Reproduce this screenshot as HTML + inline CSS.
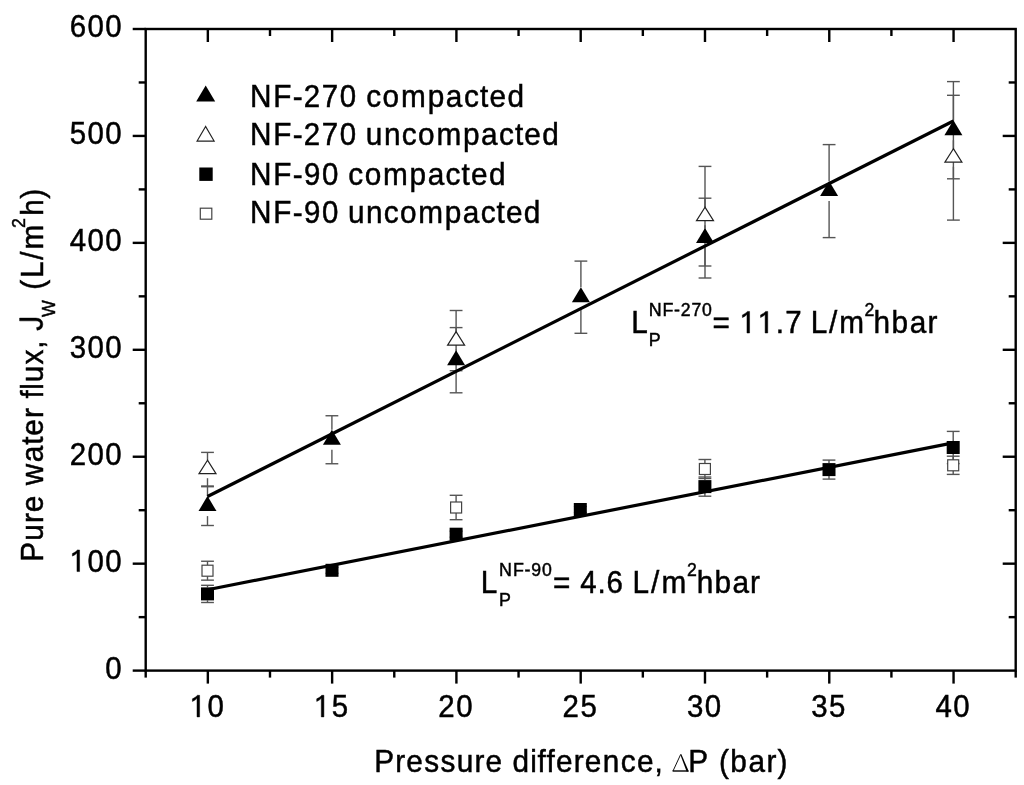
<!DOCTYPE html><html><head><meta charset="utf-8"><style>html,body{margin:0;padding:0;background:#fff;overflow:hidden;}svg{display:block;filter:grayscale(1);}text{font-family:"Liberation Sans",sans-serif;fill:#000;font-kerning:none;}</style></head><body>
<svg width="1024" height="785" viewBox="0 0 1024 785">
<rect width="1024" height="785" fill="#fff"/>
<g stroke="#000" stroke-width="2.4" fill="none" stroke-linecap="butt">
<rect x="145.7" y="29.0" width="870.0" height="641.6"/>
<line x1="132.7" y1="670.60" x2="145.7" y2="670.60"/>
<line x1="138.7" y1="617.13" x2="145.7" y2="617.13"/>
<line x1="1015.7" y1="617.13" x2="1008.7" y2="617.13"/>
<line x1="132.7" y1="563.67" x2="145.7" y2="563.67"/>
<line x1="1015.7" y1="563.67" x2="1002.7" y2="563.67"/>
<line x1="138.7" y1="510.20" x2="145.7" y2="510.20"/>
<line x1="1015.7" y1="510.20" x2="1008.7" y2="510.20"/>
<line x1="132.7" y1="456.73" x2="145.7" y2="456.73"/>
<line x1="1015.7" y1="456.73" x2="1002.7" y2="456.73"/>
<line x1="138.7" y1="403.27" x2="145.7" y2="403.27"/>
<line x1="1015.7" y1="403.27" x2="1008.7" y2="403.27"/>
<line x1="132.7" y1="349.80" x2="145.7" y2="349.80"/>
<line x1="1015.7" y1="349.80" x2="1002.7" y2="349.80"/>
<line x1="138.7" y1="296.33" x2="145.7" y2="296.33"/>
<line x1="1015.7" y1="296.33" x2="1008.7" y2="296.33"/>
<line x1="132.7" y1="242.87" x2="145.7" y2="242.87"/>
<line x1="1015.7" y1="242.87" x2="1002.7" y2="242.87"/>
<line x1="138.7" y1="189.40" x2="145.7" y2="189.40"/>
<line x1="1015.7" y1="189.40" x2="1008.7" y2="189.40"/>
<line x1="132.7" y1="135.93" x2="145.7" y2="135.93"/>
<line x1="1015.7" y1="135.93" x2="1002.7" y2="135.93"/>
<line x1="138.7" y1="82.47" x2="145.7" y2="82.47"/>
<line x1="1015.7" y1="82.47" x2="1008.7" y2="82.47"/>
<line x1="132.7" y1="29.00" x2="145.7" y2="29.00"/>
<line x1="145.70" y1="670.6" x2="145.70" y2="677.6"/>
<line x1="207.84" y1="670.6" x2="207.84" y2="683.6"/>
<line x1="207.84" y1="29.0" x2="207.84" y2="42.0"/>
<line x1="269.99" y1="670.6" x2="269.99" y2="677.6"/>
<line x1="269.99" y1="29.0" x2="269.99" y2="36.0"/>
<line x1="332.13" y1="670.6" x2="332.13" y2="683.6"/>
<line x1="332.13" y1="29.0" x2="332.13" y2="42.0"/>
<line x1="394.27" y1="670.6" x2="394.27" y2="677.6"/>
<line x1="394.27" y1="29.0" x2="394.27" y2="36.0"/>
<line x1="456.41" y1="670.6" x2="456.41" y2="683.6"/>
<line x1="456.41" y1="29.0" x2="456.41" y2="42.0"/>
<line x1="518.56" y1="670.6" x2="518.56" y2="677.6"/>
<line x1="518.56" y1="29.0" x2="518.56" y2="36.0"/>
<line x1="580.70" y1="670.6" x2="580.70" y2="683.6"/>
<line x1="580.70" y1="29.0" x2="580.70" y2="42.0"/>
<line x1="642.84" y1="670.6" x2="642.84" y2="677.6"/>
<line x1="642.84" y1="29.0" x2="642.84" y2="36.0"/>
<line x1="704.99" y1="670.6" x2="704.99" y2="683.6"/>
<line x1="704.99" y1="29.0" x2="704.99" y2="42.0"/>
<line x1="767.13" y1="670.6" x2="767.13" y2="677.6"/>
<line x1="767.13" y1="29.0" x2="767.13" y2="36.0"/>
<line x1="829.27" y1="670.6" x2="829.27" y2="683.6"/>
<line x1="829.27" y1="29.0" x2="829.27" y2="42.0"/>
<line x1="891.41" y1="670.6" x2="891.41" y2="677.6"/>
<line x1="891.41" y1="29.0" x2="891.41" y2="36.0"/>
<line x1="953.56" y1="670.6" x2="953.56" y2="683.6"/>
<line x1="953.56" y1="29.0" x2="953.56" y2="42.0"/>
<line x1="1015.70" y1="670.6" x2="1015.70" y2="677.6"/>
</g>
<g stroke="#000" stroke-width="0.5">
<text transform="translate(105.32,678.50) scale(0.92,0.98)" font-size="32">0</text>
<path d="M515,0 L696,0 L696,1409 L545,1409 C470,1330 330,1230 197,1180 L197,1010 C330,1060 440,1140 515,1210 Z" transform="translate(69.57,571.57) scale(0.014375,-0.015312)" fill="#000" stroke="#000" stroke-width="32.0"/><text transform="translate(87.52,571.57) scale(0.92,0.98)" font-size="32">0</text><text transform="translate(105.32,571.57) scale(0.92,0.98)" font-size="32">0</text>
<text transform="translate(69.72,464.63) scale(0.92,0.98)" font-size="32">2</text><text transform="translate(87.52,464.63) scale(0.92,0.98)" font-size="32">0</text><text transform="translate(105.32,464.63) scale(0.92,0.98)" font-size="32">0</text>
<text transform="translate(69.71,357.70) scale(0.92,0.98)" font-size="32">3</text><text transform="translate(87.52,357.70) scale(0.92,0.98)" font-size="32">0</text><text transform="translate(105.32,357.70) scale(0.92,0.98)" font-size="32">0</text>
<text transform="translate(69.71,250.77) scale(0.92,0.98)" font-size="32">4</text><text transform="translate(87.52,250.77) scale(0.92,0.98)" font-size="32">0</text><text transform="translate(105.32,250.77) scale(0.92,0.98)" font-size="32">0</text>
<text transform="translate(69.72,143.83) scale(0.92,0.98)" font-size="32">5</text><text transform="translate(87.52,143.83) scale(0.92,0.98)" font-size="32">0</text><text transform="translate(105.32,143.83) scale(0.92,0.98)" font-size="32">0</text>
<text transform="translate(69.73,36.90) scale(0.92,0.98)" font-size="32">6</text><text transform="translate(87.52,36.90) scale(0.92,0.98)" font-size="32">0</text><text transform="translate(105.32,36.90) scale(0.92,0.98)" font-size="32">0</text>
<path d="M515,0 L696,0 L696,1409 L545,1409 C470,1330 330,1230 197,1180 L197,1010 C330,1060 440,1140 515,1210 Z" transform="translate(189.60,716.90) scale(0.014375,-0.015312)" fill="#000" stroke="#000" stroke-width="32.0"/><text transform="translate(207.55,716.90) scale(0.92,0.98)" font-size="32">0</text>
<path d="M515,0 L696,0 L696,1409 L545,1409 C470,1330 330,1230 197,1180 L197,1010 C330,1060 440,1140 515,1210 Z" transform="translate(313.89,716.90) scale(0.014375,-0.015312)" fill="#000" stroke="#000" stroke-width="32.0"/><text transform="translate(331.84,716.90) scale(0.92,0.98)" font-size="32">5</text>
<text transform="translate(438.33,716.90) scale(0.92,0.98)" font-size="32">2</text><text transform="translate(456.13,716.90) scale(0.92,0.98)" font-size="32">0</text>
<text transform="translate(562.62,716.90) scale(0.92,0.98)" font-size="32">2</text><text transform="translate(580.41,716.90) scale(0.92,0.98)" font-size="32">5</text>
<text transform="translate(686.89,716.90) scale(0.92,0.98)" font-size="32">3</text><text transform="translate(704.70,716.90) scale(0.92,0.98)" font-size="32">0</text>
<text transform="translate(811.18,716.90) scale(0.92,0.98)" font-size="32">3</text><text transform="translate(828.98,716.90) scale(0.92,0.98)" font-size="32">5</text>
<text transform="translate(935.46,716.90) scale(0.92,0.98)" font-size="32">4</text><text transform="translate(953.27,716.90) scale(0.92,0.98)" font-size="32">0</text>
<text transform="translate(374.16,772.00) scale(0.93,1.0)" font-size="32">P</text><text transform="translate(395.33,772.00) scale(0.93,1.0)" font-size="32">r</text><text transform="translate(406.36,772.00) scale(0.93,1.0)" font-size="32">e</text><text transform="translate(424.27,772.00) scale(0.93,1.0)" font-size="32">s</text><text transform="translate(440.45,772.00) scale(0.93,1.0)" font-size="32">s</text><text transform="translate(456.70,772.00) scale(0.93,1.0)" font-size="32">u</text><text transform="translate(474.49,772.00) scale(0.93,1.0)" font-size="32">r</text><text transform="translate(485.52,772.00) scale(0.93,1.0)" font-size="32">e</text><text transform="translate(512.55,772.00) scale(0.93,1.0)" font-size="32">d</text><text transform="translate(530.18,772.00) scale(0.93,1.0)" font-size="32">i</text><text transform="translate(537.55,772.00) scale(0.93,1.0)" font-size="32">f</text><text transform="translate(546.62,772.00) scale(0.93,1.0)" font-size="32">f</text><text transform="translate(555.98,772.00) scale(0.93,1.0)" font-size="32">e</text><text transform="translate(573.77,772.00) scale(0.93,1.0)" font-size="32">r</text><text transform="translate(584.80,772.00) scale(0.93,1.0)" font-size="32">e</text><text transform="translate(602.78,772.00) scale(0.93,1.0)" font-size="32">n</text><text transform="translate(620.71,772.00) scale(0.93,1.0)" font-size="32">c</text><text transform="translate(636.94,772.00) scale(0.93,1.0)" font-size="32">e</text><text transform="translate(654.61,772.00) scale(0.93,1.0)" font-size="32">,</text>
<text transform="translate(688.16,772.00) scale(0.93,1.0)" font-size="32">P</text><text transform="translate(718.95,772.00) scale(0.93,1.0)" font-size="32">(</text><text transform="translate(730.27,772.00) scale(0.93,1.0)" font-size="32">b</text><text transform="translate(748.54,772.00) scale(0.93,1.0)" font-size="32">a</text><text transform="translate(766.55,772.00) scale(0.93,1.0)" font-size="32">r</text><text transform="translate(777.54,772.00) scale(0.93,1.0)" font-size="32">)</text>
<g transform="translate(42.5,559.40) rotate(-90)"><text transform="translate(-2.44,0.00) scale(0.93,1.0)" font-size="32">P</text><text transform="translate(18.75,0.00) scale(0.93,1.0)" font-size="32">u</text><text transform="translate(36.37,0.00) scale(0.93,1.0)" font-size="32">r</text><text transform="translate(47.22,0.00) scale(0.93,1.0)" font-size="32">e</text><text transform="translate(74.12,0.00) scale(0.93,1.0)" font-size="32">w</text><text transform="translate(97.10,0.00) scale(0.93,1.0)" font-size="32">a</text><text transform="translate(114.55,0.00) scale(0.93,1.0)" font-size="32">t</text><text transform="translate(123.75,0.00) scale(0.93,1.0)" font-size="32">e</text><text transform="translate(141.37,0.00) scale(0.93,1.0)" font-size="32">r</text><text transform="translate(160.83,0.00) scale(0.93,1.0)" font-size="32">f</text><text transform="translate(169.65,0.00) scale(0.93,1.0)" font-size="32">l</text><text transform="translate(177.14,0.00) scale(0.93,1.0)" font-size="32">u</text><text transform="translate(194.89,0.00) scale(0.93,1.0)" font-size="32">x</text><text transform="translate(210.65,0.00) scale(0.93,1.0)" font-size="32">,</text><path d="M457,-20 Q99,-20 32,350 L219,381 Q237,265 300,200 Q363,135 458,135 Q562,135 622,206.5 Q682,278 682,416 L682,1466 L872,1466 L872,420 Q872,215 761,97.5 Q650,-20 457,-20 Z" transform="translate(228.63,0.00) scale(0.014531,-0.015625)" fill="#000" stroke="#000" stroke-width="32.0"/></g>
<g transform="translate(55.0,316.80) rotate(-90)"><text transform="translate(-0.08,0.00) scale(0.93,1.0)" font-size="19.2">W</text></g>
<g transform="translate(42.5,287.80) rotate(-90)"><text transform="translate(-1.85,0.00) scale(0.93,1.0)" font-size="32">(</text><text transform="translate(9.84,0.00) scale(0.93,1.0)" font-size="32">L</text><text transform="translate(28.07,0.00) scale(0.93,1.0)" font-size="32">/</text><text transform="translate(38.37,0.00) scale(0.93,1.0)" font-size="32">m</text></g>
<g transform="translate(24.8,227.00) rotate(-90)"><text transform="translate(-0.89,0.00) scale(0.92,0.98)" font-size="19.2">2</text></g>
<g transform="translate(42.5,213.60) rotate(-90)"><text transform="translate(-2.06,0.00) scale(0.93,1.0)" font-size="32">h</text></g>
<g transform="translate(42.5,198.50) rotate(-90)"><text transform="translate(-0.17,0.00) scale(0.93,1.0)" font-size="32">)</text></g>
<text transform="translate(250.06,106.60) scale(0.93,1.0)" font-size="32">N</text><text transform="translate(273.27,106.60) scale(0.93,1.0)" font-size="32">F</text><text transform="translate(292.64,106.60) scale(0.93,1.0)" font-size="32">-</text><text transform="translate(303.82,106.60) scale(0.92,0.98)" font-size="32">2</text><text transform="translate(321.80,106.60) scale(0.92,0.98)" font-size="32">7</text><text transform="translate(339.78,106.60) scale(0.92,0.98)" font-size="32">0</text>
<text transform="translate(366.24,106.60) scale(0.93,1.0)" font-size="32">c</text><text transform="translate(382.60,106.60) scale(0.93,1.0)" font-size="32">o</text><text transform="translate(401.03,106.60) scale(0.93,1.0)" font-size="32">m</text><text transform="translate(427.73,106.60) scale(0.93,1.0)" font-size="32">p</text><text transform="translate(445.87,106.60) scale(0.93,1.0)" font-size="32">a</text><text transform="translate(463.89,106.60) scale(0.93,1.0)" font-size="32">c</text><text transform="translate(479.96,106.60) scale(0.93,1.0)" font-size="32">t</text><text transform="translate(489.47,106.60) scale(0.93,1.0)" font-size="32">e</text><text transform="translate(507.57,106.60) scale(0.93,1.0)" font-size="32">d</text>
<text transform="translate(250.06,145.40) scale(0.93,1.0)" font-size="32">N</text><text transform="translate(273.27,145.40) scale(0.93,1.0)" font-size="32">F</text><text transform="translate(292.64,145.40) scale(0.93,1.0)" font-size="32">-</text><text transform="translate(303.82,145.40) scale(0.92,0.98)" font-size="32">2</text><text transform="translate(321.80,145.40) scale(0.92,0.98)" font-size="32">7</text><text transform="translate(339.78,145.40) scale(0.92,0.98)" font-size="32">0</text>
<text transform="translate(365.87,145.40) scale(0.93,1.0)" font-size="32">u</text><text transform="translate(383.88,145.40) scale(0.93,1.0)" font-size="32">n</text><text transform="translate(401.84,145.40) scale(0.93,1.0)" font-size="32">c</text><text transform="translate(418.09,145.40) scale(0.93,1.0)" font-size="32">o</text><text transform="translate(436.41,145.40) scale(0.93,1.0)" font-size="32">m</text><text transform="translate(462.99,145.40) scale(0.93,1.0)" font-size="32">p</text><text transform="translate(481.02,145.40) scale(0.93,1.0)" font-size="32">a</text><text transform="translate(498.93,145.40) scale(0.93,1.0)" font-size="32">c</text><text transform="translate(514.88,145.40) scale(0.93,1.0)" font-size="32">t</text><text transform="translate(524.28,145.40) scale(0.93,1.0)" font-size="32">e</text><text transform="translate(542.27,145.40) scale(0.93,1.0)" font-size="32">d</text>
<text transform="translate(250.06,184.60) scale(0.93,1.0)" font-size="32">N</text><text transform="translate(273.29,184.60) scale(0.93,1.0)" font-size="32">F</text><text transform="translate(292.68,184.60) scale(0.93,1.0)" font-size="32">-</text><text transform="translate(303.88,184.60) scale(0.92,0.98)" font-size="32">9</text><text transform="translate(321.88,184.60) scale(0.92,0.98)" font-size="32">0</text>
<text transform="translate(348.34,184.60) scale(0.93,1.0)" font-size="32">c</text><text transform="translate(364.63,184.60) scale(0.93,1.0)" font-size="32">o</text><text transform="translate(382.98,184.60) scale(0.93,1.0)" font-size="32">m</text><text transform="translate(409.60,184.60) scale(0.93,1.0)" font-size="32">p</text><text transform="translate(427.67,184.60) scale(0.93,1.0)" font-size="32">a</text><text transform="translate(445.62,184.60) scale(0.93,1.0)" font-size="32">c</text><text transform="translate(461.61,184.60) scale(0.93,1.0)" font-size="32">t</text><text transform="translate(471.05,184.60) scale(0.93,1.0)" font-size="32">e</text><text transform="translate(489.07,184.60) scale(0.93,1.0)" font-size="32">d</text>
<text transform="translate(250.06,223.40) scale(0.93,1.0)" font-size="32">N</text><text transform="translate(273.29,223.40) scale(0.93,1.0)" font-size="32">F</text><text transform="translate(292.68,223.40) scale(0.93,1.0)" font-size="32">-</text><text transform="translate(303.88,223.40) scale(0.92,0.98)" font-size="32">9</text><text transform="translate(321.88,223.40) scale(0.92,0.98)" font-size="32">0</text>
<text transform="translate(347.97,223.40) scale(0.93,1.0)" font-size="32">u</text><text transform="translate(365.93,223.40) scale(0.93,1.0)" font-size="32">n</text><text transform="translate(383.84,223.40) scale(0.93,1.0)" font-size="32">c</text><text transform="translate(400.04,223.40) scale(0.93,1.0)" font-size="32">o</text><text transform="translate(418.31,223.40) scale(0.93,1.0)" font-size="32">m</text><text transform="translate(444.84,223.40) scale(0.93,1.0)" font-size="32">p</text><text transform="translate(462.82,223.40) scale(0.93,1.0)" font-size="32">a</text><text transform="translate(480.68,223.40) scale(0.93,1.0)" font-size="32">c</text><text transform="translate(496.58,223.40) scale(0.93,1.0)" font-size="32">t</text><text transform="translate(505.93,223.40) scale(0.93,1.0)" font-size="32">e</text><text transform="translate(523.87,223.40) scale(0.93,1.0)" font-size="32">d</text>
<text transform="translate(631.16,333.00) scale(0.93,1.0)" font-size="32">L</text><text transform="translate(648.64,345.80) scale(0.93,1.0)" font-size="19.2">P</text><text transform="translate(648.64,316.30) scale(0.93,1.0)" font-size="19.2">N</text><text transform="translate(662.49,316.30) scale(0.93,1.0)" font-size="19.2">F</text><text transform="translate(674.05,316.30) scale(0.93,1.0)" font-size="19.2">-</text><text transform="translate(680.68,316.30) scale(0.92,0.98)" font-size="19.2">2</text><text transform="translate(691.40,316.30) scale(0.92,0.98)" font-size="19.2">7</text><text transform="translate(702.12,316.30) scale(0.92,0.98)" font-size="19.2">0</text><text transform="translate(712.55,333.00) scale(0.93,1.0)" font-size="32">=</text><path d="M515,0 L696,0 L696,1409 L545,1409 C470,1330 330,1230 197,1180 L197,1010 C330,1060 440,1140 515,1210 Z" transform="translate(739.57,333.00) scale(0.014375,-0.015312)" fill="#000" stroke="#000" stroke-width="32.0"/><path d="M515,0 L696,0 L696,1409 L545,1409 C470,1330 330,1230 197,1180 L197,1010 C330,1060 440,1140 515,1210 Z" transform="translate(757.73,333.00) scale(0.014375,-0.015312)" fill="#000" stroke="#000" stroke-width="32.0"/><text transform="translate(775.65,333.00) scale(0.93,1.0)" font-size="32">.</text><text transform="translate(785.31,333.00) scale(0.92,0.98)" font-size="32">7</text><text transform="translate(810.76,333.00) scale(0.93,1.0)" font-size="32">L</text><text transform="translate(829.02,333.00) scale(0.93,1.0)" font-size="32">/</text><text transform="translate(839.37,333.00) scale(0.93,1.0)" font-size="32">m</text><text transform="translate(864.61,316.30) scale(0.92,0.98)" font-size="19.2">2</text><text transform="translate(873.44,333.00) scale(0.93,1.0)" font-size="32">h</text><text transform="translate(891.54,333.00) scale(0.93,1.0)" font-size="32">b</text><text transform="translate(909.64,333.00) scale(0.93,1.0)" font-size="32">a</text><text transform="translate(927.48,333.00) scale(0.93,1.0)" font-size="32">r</text>
<text transform="translate(480.86,592.90) scale(0.93,1.0)" font-size="32">L</text><text transform="translate(499.04,605.70) scale(0.93,1.0)" font-size="19.2">P</text><text transform="translate(499.04,576.20) scale(0.93,1.0)" font-size="19.2">N</text><text transform="translate(512.97,576.20) scale(0.93,1.0)" font-size="19.2">F</text><text transform="translate(524.60,576.20) scale(0.93,1.0)" font-size="19.2">-</text><text transform="translate(531.32,576.20) scale(0.92,0.98)" font-size="19.2">9</text><text transform="translate(542.12,576.20) scale(0.92,0.98)" font-size="19.2">0</text><text transform="translate(552.95,592.90) scale(0.93,1.0)" font-size="32">=</text><text transform="translate(580.32,592.90) scale(0.92,0.98)" font-size="32">4</text><text transform="translate(597.47,592.90) scale(0.93,1.0)" font-size="32">.</text><text transform="translate(606.52,592.90) scale(0.92,0.98)" font-size="32">6</text><text transform="translate(632.46,592.90) scale(0.93,1.0)" font-size="32">L</text><text transform="translate(650.92,592.90) scale(0.93,1.0)" font-size="32">/</text><text transform="translate(661.47,592.90) scale(0.93,1.0)" font-size="32">m</text><text transform="translate(687.11,576.20) scale(0.92,0.98)" font-size="19.2">2</text><text transform="translate(696.74,592.90) scale(0.93,1.0)" font-size="32">h</text><text transform="translate(714.57,592.90) scale(0.93,1.0)" font-size="32">b</text><text transform="translate(732.41,592.90) scale(0.93,1.0)" font-size="32">a</text><text transform="translate(749.98,592.90) scale(0.93,1.0)" font-size="32">r</text>
</g>
<path d="M673.0,771.0 L680.6,754.6" fill="none" stroke="#111" stroke-width="1.0"/>
<path d="M672.6,771.0 L688.4,771.0" fill="none" stroke="#000" stroke-width="1.4"/>
<path d="M680.2,754.2 L681.4,754.2 L688.8,771.6 L686.6,771.6 Z" fill="#000"/>
<g stroke="#555" stroke-width="1.4"><line x1="207.5" y1="585.30" x2="207.5" y2="587.40"/><line x1="207.5" y1="600.40" x2="207.5" y2="602.50"/><line x1="201.10" y1="585.30" x2="213.90" y2="585.30"/><line x1="201.10" y1="602.50" x2="213.90" y2="602.50"/></g>
<g stroke="#555" stroke-width="1.4"><line x1="325.60" y1="567.30" x2="338.40" y2="567.30"/><line x1="325.60" y1="573.30" x2="338.40" y2="573.30"/></g>
<g stroke="#555" stroke-width="1.4"><line x1="449.70" y1="531.20" x2="462.50" y2="531.20"/><line x1="449.70" y1="537.20" x2="462.50" y2="537.20"/></g>
<g stroke="#555" stroke-width="1.4"><line x1="573.90" y1="506.50" x2="586.70" y2="506.50"/><line x1="573.90" y1="512.50" x2="586.70" y2="512.50"/></g>
<g stroke="#555" stroke-width="1.4"><line x1="704.9" y1="477.00" x2="704.9" y2="480.10"/><line x1="704.9" y1="493.10" x2="704.9" y2="496.20"/><line x1="698.50" y1="477.00" x2="711.30" y2="477.00"/><line x1="698.50" y1="496.20" x2="711.30" y2="496.20"/></g>
<g stroke="#555" stroke-width="1.4"><line x1="829.0" y1="460.10" x2="829.0" y2="463.10"/><line x1="829.0" y1="476.10" x2="829.0" y2="479.10"/><line x1="822.60" y1="460.10" x2="835.40" y2="460.10"/><line x1="822.60" y1="479.10" x2="835.40" y2="479.10"/></g>
<g stroke="#555" stroke-width="1.4"><line x1="953.2" y1="431.40" x2="953.2" y2="441.00"/><line x1="953.2" y1="454.00" x2="953.2" y2="463.60"/><line x1="946.80" y1="431.40" x2="959.60" y2="431.40"/><line x1="946.80" y1="463.60" x2="959.60" y2="463.60"/></g>
<g stroke="#555" stroke-width="1.4"><line x1="207.5" y1="561.25" x2="207.5" y2="565.20"/><line x1="207.5" y1="576.20" x2="207.5" y2="580.15"/><line x1="201.10" y1="561.25" x2="213.90" y2="561.25"/><line x1="201.10" y1="580.15" x2="213.90" y2="580.15"/></g>
<g stroke="#555" stroke-width="1.4"><line x1="456.1" y1="495.30" x2="456.1" y2="502.00"/><line x1="456.1" y1="513.00" x2="456.1" y2="519.70"/><line x1="449.70" y1="495.30" x2="462.50" y2="495.30"/><line x1="449.70" y1="519.70" x2="462.50" y2="519.70"/></g>
<g stroke="#555" stroke-width="1.4"><line x1="704.9" y1="459.50" x2="704.9" y2="463.50"/><line x1="704.9" y1="474.50" x2="704.9" y2="478.50"/><line x1="698.50" y1="459.50" x2="711.30" y2="459.50"/><line x1="698.50" y1="478.50" x2="711.30" y2="478.50"/></g>
<g stroke="#555" stroke-width="1.4"><line x1="953.2" y1="456.20" x2="953.2" y2="459.80"/><line x1="953.2" y1="470.80" x2="953.2" y2="474.40"/><line x1="946.80" y1="456.20" x2="959.60" y2="456.20"/><line x1="946.80" y1="474.40" x2="959.60" y2="474.40"/></g>
<g stroke="#555" stroke-width="1.4"><line x1="207.5" y1="486.70" x2="207.5" y2="496.10"/><line x1="207.5" y1="516.10" x2="207.5" y2="525.50"/><line x1="201.10" y1="486.70" x2="213.90" y2="486.70"/><line x1="201.10" y1="525.50" x2="213.90" y2="525.50"/></g>
<g stroke="#555" stroke-width="1.4"><line x1="331.9" y1="415.75" x2="331.9" y2="429.75"/><line x1="331.9" y1="449.75" x2="331.9" y2="463.75"/><line x1="325.50" y1="415.75" x2="338.30" y2="415.75"/><line x1="325.50" y1="463.75" x2="338.30" y2="463.75"/></g>
<g stroke="#555" stroke-width="1.4"><line x1="456.1" y1="327.60" x2="456.1" y2="350.20"/><line x1="456.1" y1="370.20" x2="456.1" y2="392.80"/><line x1="449.70" y1="327.60" x2="462.50" y2="327.60"/><line x1="449.70" y1="392.80" x2="462.50" y2="392.80"/></g>
<g stroke="#555" stroke-width="1.4"><line x1="580.9" y1="261.10" x2="580.9" y2="287.20"/><line x1="580.9" y1="307.20" x2="580.9" y2="333.30"/><line x1="574.50" y1="261.10" x2="587.30" y2="261.10"/><line x1="574.50" y1="333.30" x2="587.30" y2="333.30"/></g>
<g stroke="#555" stroke-width="1.4"><line x1="705.0" y1="198.20" x2="705.0" y2="228.10"/><line x1="705.0" y1="248.10" x2="705.0" y2="278.00"/><line x1="698.60" y1="198.20" x2="711.40" y2="198.20"/><line x1="698.60" y1="278.00" x2="711.40" y2="278.00"/></g>
<g stroke="#555" stroke-width="1.4"><line x1="829.1" y1="144.60" x2="829.1" y2="181.10"/><line x1="829.1" y1="201.10" x2="829.1" y2="237.60"/><line x1="822.70" y1="144.60" x2="835.50" y2="144.60"/><line x1="822.70" y1="237.60" x2="835.50" y2="237.60"/></g>
<g stroke="#555" stroke-width="1.4"><line x1="953.4" y1="81.60" x2="953.4" y2="120.20"/><line x1="953.4" y1="140.20" x2="953.4" y2="178.80"/><line x1="947.00" y1="81.60" x2="959.80" y2="81.60"/><line x1="947.00" y1="178.80" x2="959.80" y2="178.80"/></g>
<g stroke="#555" stroke-width="1.4"><line x1="207.5" y1="452.40" x2="207.5" y2="460.20"/><line x1="207.5" y1="478.20" x2="207.5" y2="486.00"/><line x1="201.10" y1="452.40" x2="213.90" y2="452.40"/><line x1="201.10" y1="486.00" x2="213.90" y2="486.00"/></g>
<g stroke="#555" stroke-width="1.4"><line x1="456.1" y1="310.50" x2="456.1" y2="331.60"/><line x1="456.1" y1="349.60" x2="456.1" y2="370.70"/><line x1="449.70" y1="310.50" x2="462.50" y2="310.50"/><line x1="449.70" y1="370.70" x2="462.50" y2="370.70"/></g>
<g stroke="#555" stroke-width="1.4"><line x1="705.0" y1="166.40" x2="705.0" y2="207.20"/><line x1="705.0" y1="225.20" x2="705.0" y2="266.00"/><line x1="698.60" y1="166.40" x2="711.40" y2="166.40"/><line x1="698.60" y1="266.00" x2="711.40" y2="266.00"/></g>
<g stroke="#555" stroke-width="1.4"><line x1="953.4" y1="95.30" x2="953.4" y2="148.70"/><line x1="953.4" y1="166.70" x2="953.4" y2="220.10"/><line x1="947.00" y1="95.30" x2="959.80" y2="95.30"/><line x1="947.00" y1="220.10" x2="959.80" y2="220.10"/></g>
<g stroke="#000" stroke-width="3.2" stroke-linecap="butt"><line x1="207.5" y1="496.5" x2="953.4" y2="121.0"/><line x1="207.5" y1="589.7" x2="953.2" y2="442.9"/></g>
<rect x="201.00" y="587.40" width="13" height="13" fill="#000"/>
<rect x="325.50" y="563.80" width="13" height="13" fill="#000"/>
<rect x="449.60" y="527.70" width="13" height="13" fill="#000"/>
<rect x="573.80" y="503.00" width="13" height="13" fill="#000"/>
<rect x="698.40" y="480.10" width="13" height="13" fill="#000"/>
<rect x="822.50" y="463.10" width="13" height="13" fill="#000"/>
<rect x="946.70" y="441.00" width="13" height="13" fill="#000"/>
<rect x="202.00" y="565.20" width="11" height="11" fill="#fff" stroke="#444" stroke-width="1.2"/>
<rect x="450.60" y="502.00" width="11" height="11" fill="#fff" stroke="#444" stroke-width="1.2"/>
<rect x="699.40" y="463.50" width="11" height="11" fill="#fff" stroke="#444" stroke-width="1.2"/>
<rect x="947.70" y="459.80" width="11" height="11" fill="#fff" stroke="#444" stroke-width="1.2"/>
<polygon points="207.50,496.10 198.50,511.10 216.50,511.10" fill="#000"/>
<polygon points="331.90,429.75 322.90,444.75 340.90,444.75" fill="#000"/>
<polygon points="456.10,350.20 447.10,365.20 465.10,365.20" fill="#000"/>
<polygon points="580.90,287.20 571.90,302.20 589.90,302.20" fill="#000"/>
<polygon points="705.00,228.10 696.00,243.10 714.00,243.10" fill="#000"/>
<polygon points="829.10,181.10 820.10,196.10 838.10,196.10" fill="#000"/>
<polygon points="953.40,120.20 944.40,135.20 962.40,135.20" fill="#000"/>
<polygon points="207.50,460.20 199.00,473.70 216.00,473.70" fill="#fff" stroke="#222" stroke-width="1.2"/>
<polygon points="456.10,331.60 447.60,345.10 464.60,345.10" fill="#fff" stroke="#222" stroke-width="1.2"/>
<polygon points="705.00,207.20 696.50,220.70 713.50,220.70" fill="#fff" stroke="#222" stroke-width="1.2"/>
<polygon points="953.40,148.70 944.90,162.20 961.90,162.20" fill="#fff" stroke="#222" stroke-width="1.2"/>
<polygon points="205.70,85.53 196.20,101.53 215.20,101.53" fill="#000"/>
<polygon points="205.60,126.47 197.10,141.07 214.10,141.07" fill="#fff" stroke="#222" stroke-width="1.2"/>
<rect x="199.30" y="167.50" width="13.4" height="13.4" fill="#000"/>
<rect x="200.3" y="208.2" width="11.5" height="11" fill="#fff" stroke="#444" stroke-width="1.2"/>
</svg></body></html>
